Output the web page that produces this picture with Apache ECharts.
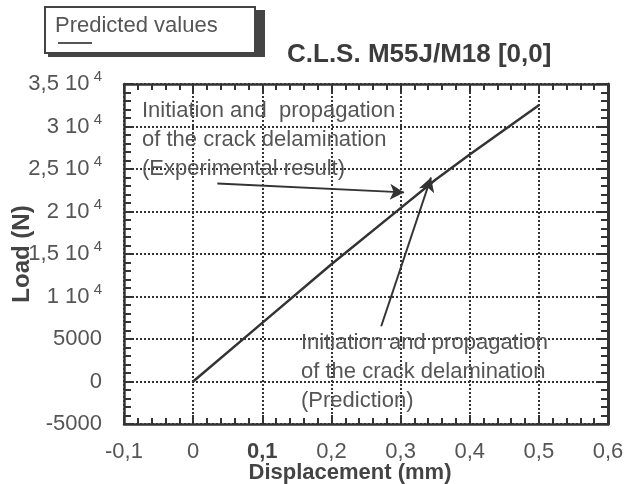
<!DOCTYPE html>
<html>
<head>
<meta charset="utf-8">
<script src="https://cdn.jsdelivr.net/npm/echarts@6/dist/echarts.min.js"></script>
<style>
  html, body { margin: 0; padding: 0; background: #fff; }
  #main { width: 625px; height: 484px; }
</style>
</head>
<body>
<div id="main"></div>
<script>
var displacement = [0, 0.1, 0.2, 0.3, 0.35, 0.4, 0.5];
var load = [0, 6900, 13800, 20400, 23700, 26700, 32500];

var xTickLabels = ['-0,1', '0', '0,1', '0,2', '0,3', '0,4', '0,5', '0,6'];
var yTickLabels = ['-5000', '0', '5000', '1 10|4', '1,5 10|4', '2 10|4', '2,5 10|4', '3 10|4', '3,5 10|4'];

// arrows: [from, to] in data units
var arrowExperimental = [[0.035, 23300], [0.305, 22250]];
var arrowPrediction = [[0.272, 6500], [0.344, 24000]];

var noteExperimental = 'Initiation and  propagation\nof the crack delamination\n(Experimental result)';
var notePrediction = 'Initiation and propagation\nof the crack delamination\n(Prediction)';

var myChart = echarts.init(document.getElementById('main'));

var ink = '#333';
var textGray = '#555';
var fontFam = '"Liberation Sans", Arial, Helvetica, sans-serif';

var xLabel = function(v) {
    var i = Math.round((v + 0.1) * 10);
    var s = xTickLabels[i] || '';
    if (s == '0,1') {
        return '{b|' + s + '}';
    }
    return s;
};

var yLabel = function(v) {
    var i = Math.round((v + 5000) / 5000);
    var s = yTickLabels[i] || '';
    var parts = s.split('|');
    if (parts.length == 2) {
        return '{a|' + parts[0] + '}{s| ' + parts[1] + '}';
    }
    return '{a|' + s + '}';
};

var points = displacement.map(function(d, i) {
    return [d, load[i]];
});

var option = {
    animation: false,
    title: {
        text: 'C.L.S. M55J/M18 [0,0]',
        left: 287,
        top: 42,
        padding: 0,
        textStyle: {
            fontFamily: fontFam,
            fontSize: 26,
            fontWeight: 'bold',
            color: '#3c3c3c'
        }
    },
    grid: {
        left: 124,
        right: 17,
        top: 84,
        bottom: 60,
        containLabel: false,
        outerBoundsMode: 'none'
    },
    xAxis: [{
        type: 'value',
        min: -0.1,
        max: 0.6,
        interval: 0.1,
        name: 'Displacement (mm)',
        nameLocation: 'middle',
        nameGap: 38,
        nameMoveOverlap: false,
        nameTextStyle: {
            fontFamily: fontFam,
            fontSize: 22,
            fontWeight: 'bold',
            color: '#444',
            padding: [0, 32, 0, 0]
        },
        axisLine: { onZero: false, lineStyle: { color: ink, width: 2.5 } },
        axisTick: { inside: true, length: 9, lineStyle: { color: ink, width: 2 } },
        minorTick: { show: true, splitNumber: 5, length: 6, lineStyle: { color: ink, width: 2 } },
        splitLine: { show: true, lineStyle: { color: '#333', width: 2, type: 'dotted' } },
        axisLabel: {
            formatter: xLabel,
            margin: 17,
            fontFamily: fontFam,
            fontSize: 22,
            color: textGray,
            rich: {
                b: { fontFamily: fontFam, fontSize: 22, fontWeight: 'bold', color: '#444' }
            }
        }
    }, {
        type: 'value',
        position: 'top',
        min: -0.1,
        max: 0.6,
        interval: 0.1,
        axisLine: { onZero: false, lineStyle: { color: ink, width: 2.5 } },
        axisTick: { inside: true, length: 9, lineStyle: { color: ink, width: 2 } },
        minorTick: { show: true, splitNumber: 5, length: 6, lineStyle: { color: ink, width: 2 } },
        splitLine: { show: false },
        axisLabel: { show: false }
    }],
    yAxis: [{
        type: 'value',
        min: -5000,
        max: 35000,
        interval: 5000,
        name: 'Load (N)',
        nameLocation: 'middle',
        nameGap: 90,
        nameMoveOverlap: false,
        nameRotate: 90,
        nameTextStyle: {
            fontFamily: fontFam,
            fontSize: 24,
            fontWeight: 'bold',
            color: '#444'
        },
        axisLine: { onZero: false, lineStyle: { color: ink, width: 2.5 } },
        axisTick: { inside: true, length: 10, lineStyle: { color: ink, width: 2 } },
        minorTick: { show: true, splitNumber: 5, length: 7, lineStyle: { color: ink, width: 2 } },
        splitLine: { show: true, lineStyle: { color: '#333', width: 2, type: 'dotted' } },
        axisLabel: {
            formatter: yLabel,
            margin: 22,
            rich: {
                a: { fontFamily: fontFam, fontSize: 22, color: textGray, lineHeight: 29 },
                s: { fontFamily: fontFam, fontSize: 15, color: textGray, lineHeight: 15, verticalAlign: 'top' }
            }
        }
    }, {
        type: 'value',
        position: 'right',
        min: -5000,
        max: 35000,
        interval: 5000,
        axisLine: { onZero: false, lineStyle: { color: ink, width: 3 } },
        axisTick: { inside: true, length: 10, lineStyle: { color: ink, width: 2 } },
        minorTick: { show: true, splitNumber: 5, length: 7, lineStyle: { color: ink, width: 2 } },
        splitLine: { show: false },
        axisLabel: { show: false }
    }],
    series: [{
        name: 'Predicted values',
        type: 'line',
        data: points,
        showSymbol: false,
        symbol: 'none',
        lineStyle: { color: ink, width: 2.5 },
        markLine: {
            silent: true,
            symbol: ['none', 'arrow'],
            symbolSize: [12, 14],
            label: { show: false },
            lineStyle: { color: ink, width: 2, type: 'solid' },
            data: [
                [{ coord: arrowExperimental[0] }, { coord: arrowExperimental[1] }],
                [{ coord: arrowPrediction[0] }, { coord: arrowPrediction[1] }]
            ]
        }
    }],
    graphic: [{
        type: 'rect',
        z: 10,
        shape: { x: 48, y: 10, width: 217, height: 47 },
        style: { fill: '#444' }
    }, {
        type: 'rect',
        z: 11,
        shape: { x: 45, y: 7, width: 210, height: 46 },
        style: { fill: '#fff', stroke: '#444', lineWidth: 2 }
    }, {
        type: 'text',
        z: 12,
        x: 55,
        y: 26,
        style: {
            text: 'Predicted values',
            fontFamily: fontFam,
            fontSize: 22,
            fill: textGray,
            verticalAlign: 'middle'
        }
    }, {
        type: 'line',
        z: 12,
        shape: { x1: 58, y1: 43, x2: 92, y2: 43 },
        style: { stroke: textGray, lineWidth: 2 }
    }, {
        type: 'text',
        z: 12,
        x: 142,
        y: 96,
        style: {
            text: noteExperimental,
            fontFamily: fontFam,
            fontSize: 22,
            lineHeight: 29,
            fill: textGray
        }
    }, {
        type: 'text',
        z: 12,
        x: 301,
        y: 328,
        style: {
            text: notePrediction,
            fontFamily: fontFam,
            fontSize: 22,
            lineHeight: 29,
            fill: textGray
        }
    }]
};

myChart.setOption(option);
</script>
</body>
</html>
